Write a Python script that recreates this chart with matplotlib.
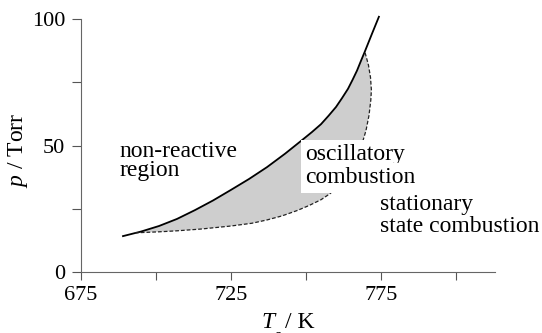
import matplotlib
matplotlib.use("Agg")
import matplotlib.pyplot as plt
import numpy as np

plt.rcParams["font.family"] = ["Liberation Serif", "DejaVu Serif"]
plt.rcParams["mathtext.fontset"] = "custom"
plt.rcParams["mathtext.rm"] = "Liberation Serif"
plt.rcParams["mathtext.it"] = "Liberation Serif:italic"

# Ignition boundary (solid): ambient temperature / K vs pressure / Torr
T_ign = [689, 695, 701, 707, 713, 719, 725, 731, 737, 743, 749, 752, 755, 757.5, 760, 762,
         764, 765.5, 767, 768.3, 769.6, 772, 774.3]
p_ign = [14.2, 16.0, 18.2, 21.0, 24.5, 28.3, 32.5, 36.8, 41.5, 46.8, 52.5, 55.4, 58.5, 61.8,
         65.3, 68.8, 72.5, 76.0, 79.7, 83.5, 87.2, 94.3, 101.0]

# Limit of oscillatory combustion (dashed)
T_osc = [693, 701, 707, 715, 725, 732, 737, 742, 747, 751, 755, 758, 761, 764, 766.5, 768.5,
         770, 771, 771.6, 771.8, 771.5, 770.8, 769.6]
p_osc = [15.5, 15.9, 16.3, 17.0, 18.2, 19.3, 20.6, 22.2, 24.3, 26.3, 28.6, 31.0, 34.2, 38.5,
         43.5, 50.0, 56.0, 62.0, 68.0, 72.0, 77.0, 82.0, 87.2]

x_major = [675, 725, 775]
x_minor = [700, 750, 800]
y_major = [0, 50, 100]
y_minor = [25, 75]

fig = plt.figure(figsize=(5.42, 3.33), dpi=100)
ax = fig.add_axes([81 / 542, 61 / 333, 414 / 542, 252.7 / 333])

# shaded oscillatory region between the two boundaries
T_ign_a = np.array(T_ign)
p_ign_a = np.array(p_ign)
inside = (T_ign_a > T_osc[0]) & (T_ign_a < T_osc[-1])
poly_T = np.concatenate([[T_osc[0]], T_ign_a[inside], T_osc[::-1]])
poly_p = np.concatenate([[p_osc[0]], p_ign_a[inside], p_osc[::-1]])
ax.fill(poly_T, poly_p, facecolor="#cecece", edgecolor="none", zorder=1)

ax.plot(T_ign, p_ign, color="black", lw=1.3, solid_joinstyle="round", zorder=2, clip_on=False)
ax.plot(T_osc, p_osc, color="#222222", lw=0.9, linestyle=(0, (3, 1.6)), zorder=2)

ax.set_xlim(675, 813)
ax.set_ylim(0, 100)

for side in ("top", "right"):
    ax.spines[side].set_visible(False)
for side in ("left", "bottom"):
    ax.spines[side].set_color("#666666")
    ax.spines[side].set_linewidth(0.8)

ax.set_xticks(x_major)
ax.set_xticks(x_minor, minor=True)
ax.set_yticks(y_major)
ax.set_yticks(y_minor, minor=True)
ax.tick_params(axis="both", which="both", direction="out", color="#555555", width=0.8,
               labelsize=16, labelcolor="black")
ax.tick_params(axis="x", which="both", length=5.5, pad=4.5)
ax.tick_params(axis="y", which="both", length=6.5, pad=5)

txt = dict(fontsize=17, color="black", ha="left", va="baseline")
ax.text(687.7, 45.5, "non-reactive", **txt)
ax.text(687.7, 38.0, "region", **txt)
box = dict(facecolor="white", edgecolor="none", boxstyle="square,pad=0.18")
ax.text(749.7, 44.3, "oscillatory", bbox=box, zorder=3, **txt)
ax.text(749.7, 35.1, "combustion", bbox=box, zorder=3, **txt)
ax.text(774.7, 24.5, "stationary", **txt)
ax.text(774.7, 15.9, "state combustion", clip_on=False, **txt)

# axis titles
fig.text(18 / 542, 1 - 150 / 333, r"$p$ / Torr", rotation=90, ha="center", va="center",
         fontsize=17)
fig.text(261.7 / 542, 5 / 333, "T", fontstyle="italic", ha="left", va="baseline", fontsize=17)
fig.text(274 / 542, -7 / 333, "a", ha="left", va="baseline", fontsize=12)
fig.text(285 / 542, 5 / 333, "/ K", ha="left", va="baseline", fontsize=17)

fig.savefig("out.png", dpi=100)
